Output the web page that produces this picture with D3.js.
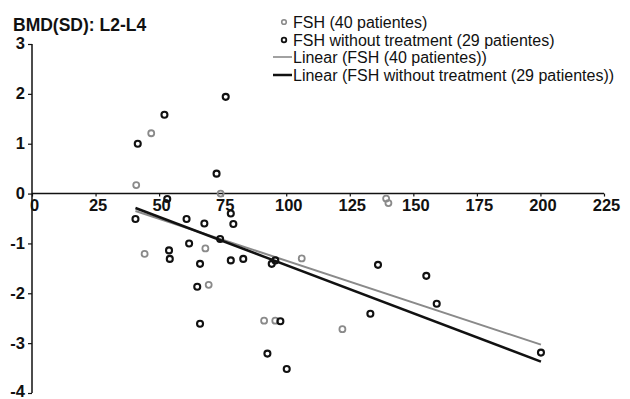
<!DOCTYPE html>
<html>
<head>
<meta charset="utf-8">
<script src="https://cdn.jsdelivr.net/npm/d3@7"></script>
<style>
  body { margin: 0; background: #fff; }
  svg { display: block; font-family: "Liberation Sans", Arial, sans-serif; }
</style>
</head>
<body>
<div class="container"></div>
<script>
// FSH (40 patientes) - gray
const fshX = [46.9, 41.0, 74.2, 68.2, 44.3, 106.1, 69.5, 91.3, 95.7, 122.1, 139.3, 140.2];
const fshY = [1.21, 0.17, 0.0, -1.1, -1.21, -1.30, -1.83, -2.55, -2.55, -2.72, -0.1, -0.19];

// FSH without treatment (29 patientes) - black
const noTreatX = [76.2, 52.1, 41.6, 72.6, 53.2, 40.7, 60.8, 67.8, 78.2, 79.2, 74.0, 61.8, 53.9, 54.2, 66.1,
    78.2, 83.1, 94.3, 95.7, 65.0, 66.1, 97.7, 92.6, 100.2, 136.1, 155.1, 159.2, 133.1, 200.2];
const noTreatY = [1.94, 1.58, 1.0, 0.40, -0.11, -0.51, -0.51, -0.6, -0.4, -0.61, -0.91, -1.0, -1.14, -1.31, -1.41,
    -1.34, -1.31, -1.41, -1.34, -1.87, -2.61, -2.56, -3.21, -3.52, -1.43, -1.65, -2.21, -2.41, -3.19];

// linear trend endpoints
const trendX = [40.7, 200.2];
const fshTrendY = [-0.35, -3.03];
const noTreatTrendY = [-0.29, -3.37];

const xTicks = [0, 25, 50, 75, 100, 125, 150, 175, 200, 225];
const yTicks = [3, 2, 1, 0, -1, -2, -3, -4];

const legendLabels = [
    'FSH (40 patientes)',
    'FSH without treatment (29 patientes)',
    'Linear (FSH (40 patientes))',
    'Linear (FSH without treatment (29 patientes))'
];

const width = 630;
const height = 399;
const gray = '#8a8a8a';
const dark = '#111';
const font = '"Liberation Sans", Arial, sans-serif';

const svg = d3.select('.container')
    .append('svg')
    .attr('width', width)
    .attr('height', height);

let x = d3.scaleLinear().domain([0, 225]).range([32, 604]);
let y = d3.scaleLinear().domain([-4, 3]).range([393, 44]);

// title
svg.append('text')
    .attr('x', 13)
    .attr('y', 31)
    .attr('font-size', 17.5)
    .attr('font-weight', 'bold')
    .attr('fill', dark)
    .text('BMD(SD): L2-L4');

// y axis (plain hyphen for negatives, like the original)
let yAxis = svg.append('g')
    .attr('transform', 'translate(' + x(0) + ',0)')
    .call(d3.axisLeft(y).tickValues(yTicks).tickSize(4).tickPadding(3).tickFormat(d => String(d)));
yAxis.select('.domain').attr('stroke', dark).attr('stroke-width', 1.5).attr('d', 'M0,' + y(3) + 'V' + y(-4));
yAxis.selectAll('.tick line').attr('stroke', dark).attr('stroke-width', 1.2);
yAxis.selectAll('.tick text')
    .attr('font-size', 16.5)
    .attr('font-weight', 'bold')
    .attr('font-family', font)
    .attr('fill', dark)
    .attr('dy', d => d === -4 ? '0.2em' : '0.3em');

// x axis at y = 0
let xAxis = svg.append('g')
    .attr('transform', 'translate(0,' + y(0) + ')')
    .call(d3.axisBottom(x).tickValues(xTicks).tickSize(3).tickPadding(3));
xAxis.select('.domain').attr('stroke', dark).attr('stroke-width', 1.5).attr('d', 'M' + x(0) + ',0H' + x(225));
xAxis.selectAll('.tick line').attr('stroke', dark).attr('stroke-width', 1.2);
xAxis.selectAll('.tick text')
    .attr('font-size', 16.5)
    .attr('font-weight', 'bold')
    .attr('font-family', font)
    .attr('fill', dark)
    .attr('dx', 2);

// trend lines
let line = d3.line().x(d => x(d[0])).y(d => y(d[1]));

svg.append('path')
    .attr('d', line(d3.zip(trendX, fshTrendY)))
    .attr('stroke', gray)
    .attr('stroke-width', 2)
    .attr('fill', 'none');

svg.append('path')
    .attr('d', line(d3.zip(trendX, noTreatTrendY)))
    .attr('stroke', dark)
    .attr('stroke-width', 2.5)
    .attr('fill', 'none');

// points
svg.append('g').selectAll('circle')
    .data(d3.zip(fshX, fshY))
    .enter()
    .append('circle')
    .attr('cx', d => x(d[0]))
    .attr('cy', d => y(d[1]))
    .attr('r', 3)
    .attr('fill', 'none')
    .attr('stroke', gray)
    .attr('stroke-width', 1.8);

svg.append('g').selectAll('circle')
    .data(d3.zip(noTreatX, noTreatY))
    .enter()
    .append('circle')
    .attr('cx', d => x(d[0]))
    .attr('cy', d => y(d[1]))
    .attr('r', 3)
    .attr('fill', 'none')
    .attr('stroke', dark)
    .attr('stroke-width', 2.1);

// legend
let legend = svg.append('g');
let rowY = [22, 40, 57, 75];

legend.selectAll('text')
    .data(legendLabels)
    .enter()
    .append('text')
    .attr('x', 293)
    .attr('y', (d, i) => rowY[i] + 5.5)
    .attr('font-size', 16)
    .attr('fill', dark)
    .text(d => d);

legend.append('circle').attr('cx', 284).attr('cy', rowY[0]).attr('r', 2.3)
    .attr('fill', 'none').attr('stroke', gray).attr('stroke-width', 1.6);
legend.append('circle').attr('cx', 284).attr('cy', rowY[1]).attr('r', 2.3)
    .attr('fill', 'none').attr('stroke', dark).attr('stroke-width', 1.8);
legend.append('line').attr('x1', 273).attr('x2', 292).attr('y1', rowY[2]).attr('y2', rowY[2])
    .attr('stroke', gray).attr('stroke-width', 1.6);
legend.append('line').attr('x1', 273).attr('x2', 292).attr('y1', rowY[3]).attr('y2', rowY[3])
    .attr('stroke', dark).attr('stroke-width', 2.5);
</script>
</body>
</html>
